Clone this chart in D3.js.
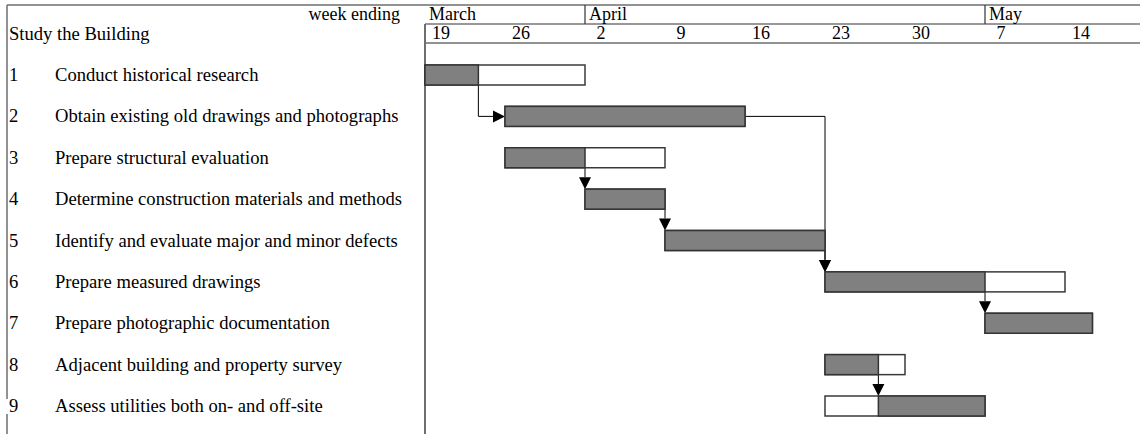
<!DOCTYPE html>
<html>
<head>
<meta charset="utf-8">
<script src="https://cdn.jsdelivr.net/npm/d3@7"></script>
<style>
  html, body { margin: 0; padding: 0; background: #fff; }
  svg { display: block; }
  text { font-family: "Liberation Serif", "Times New Roman", serif; font-size: 18px; fill: #000; }
  text.big { font-size: 18.6px; }
</style>
</head>
<body>
<svg id="chart" width="1140" height="434"></svg>
<script>
// ---- data ----
const sectionTitle = "Study the Building";
const headerLabel = "week ending";
const months = ["March", "April", "May"];
const monthStartDay = [0, 14, 49];          // days after March 19
const weekLabels = ["19", "26", "2", "9", "16", "23", "30", "7", "14"];
const weekDays = [0, 7, 14, 21, 28, 35, 42, 49, 56];

const taskIds = [1, 2, 3, 4, 5, 6, 7, 8, 9];
const taskNames = [
  "Conduct historical research",
  "Obtain existing old drawings and photographs",
  "Prepare structural evaluation",
  "Determine construction materials and methods",
  "Identify and evaluate major and minor defects",
  "Prepare measured drawings",
  "Prepare photographic documentation",
  "Adjacent building and property survey",
  "Assess utilities both on- and off-site"
];
// days after March 19
const taskStart = [0, 7, 7, 14, 21, 35, 49, 35, 35];
const taskEnd   = [14, 28, 21, 21, 35, 56, 58.4, 42, 49];
const doneStart = [0, 7, 7, 14, 21, 35, 49, 35, 39.67];
const doneEnd   = [4.67, 28, 14, 21, 35, 49, 58.4, 39.67, 49];

// dependencies: [from, to, routing]
const links = [
  [1, 2, "down-right"],
  [2, 6, "right-down"],
  [3, 4, "down"],
  [4, 5, "down"],
  [5, 6, "down"],
  [6, 7, "down"],
  [8, 9, "down"]
];

// ---- drawing ----
const svg = d3.select("#chart");
const x = d3.scaleLinear().domain([0, 63]).range([425, 1145]);
const y = d3.scaleLinear().domain([1, 9]).range([75, 406]);
const barH = 20;

const gridCol = "#6e6e6e";
const darkCol = "#333";

// frame
svg.append("line").attr("x1", 7).attr("x2", 1140).attr("y1", 5).attr("y2", 5)
  .attr("stroke", gridCol).attr("stroke-width", 1.5);
svg.append("line").attr("x1", 7).attr("x2", 7).attr("y1", 5).attr("y2", 399)
  .attr("stroke", gridCol).attr("stroke-width", 1.5);
svg.append("line").attr("x1", 7).attr("x2", 7).attr("y1", 414).attr("y2", 434)
  .attr("stroke", gridCol).attr("stroke-width", 1.5);

// header rows
svg.append("line").attr("x1", x(0)).attr("x2", 1140).attr("y1", 24).attr("y2", 24)
  .attr("stroke", darkCol).attr("stroke-width", 1.2);
svg.append("line").attr("x1", x(0)).attr("x2", 1140).attr("y1", 43).attr("y2", 43)
  .attr("stroke", gridCol).attr("stroke-width", 1.5);
svg.append("line").attr("x1", x(0)).attr("x2", x(0)).attr("y1", 24).attr("y2", 434)
  .attr("stroke", gridCol).attr("stroke-width", 2);

svg.selectAll(".msep").data(monthStartDay.slice(1)).enter().append("line")
  .attr("x1", d => x(d)).attr("x2", d => x(d)).attr("y1", 5).attr("y2", 24)
  .attr("stroke", darkCol).attr("stroke-width", 1.2);

svg.selectAll(".month").data(months).enter().append("text")
  .attr("x", (d, i) => x(monthStartDay[i]) + 4).attr("y", 20).text(d => d);

svg.selectAll(".week").data(weekLabels).enter().append("text")
  .attr("x", (d, i) => x(weekDays[i]) + 16).attr("y", 39)
  .attr("text-anchor", "middle").text(d => d);

svg.append("text").attr("x", 400).attr("y", 20).attr("text-anchor", "end").text(headerLabel);
svg.append("text").attr("class", "big").attr("x", 9).attr("y", 40).text(sectionTitle);

// task labels
const rows = svg.selectAll(".row").data(taskIds).enter().append("g");
rows.append("text").attr("class", "big").attr("x", 9).attr("y", d => y(d) + 6).text(d => d);
rows.append("text").attr("class", "big").attr("x", 55).attr("y", d => y(d) + 6).text((d, i) => taskNames[i]);

// connectors (behind bars)
const lineG = svg.append("g").attr("stroke", "#000").attr("stroke-width", 1).attr("fill", "none");
const arrowG = svg.append("g").attr("fill", "#000");
const ah = 12, aw = 6;
links.forEach(([f, t, kind]) => {
  const fi = f - 1, ti = t - 1;
  if (kind === "down") {
    const px = x(doneEnd[fi]);
    const y0 = y(f) + barH / 2, y1 = y(t) - barH / 2;
    lineG.append("path").attr("d", `M${px},${y0}V${y1 - ah}`);
    arrowG.append("path").attr("d", `M${px - aw},${y1 - ah}L${px + aw},${y1 - ah}L${px},${y1}Z`);
  } else if (kind === "down-right") {
    const px = x(doneEnd[fi]);
    const y0 = y(f) + barH / 2, yc = y(t), x1 = x(taskStart[ti]);
    lineG.append("path").attr("d", `M${px},${y0}V${yc}H${x1 - ah}`);
    arrowG.append("path").attr("d", `M${x1 - ah},${yc - aw}L${x1 - ah},${yc + aw}L${x1},${yc}Z`);
  } else if (kind === "right-down") {
    const px = x(taskEnd[fi]), yc = y(f);
    const x1 = x(taskStart[ti]), y1 = y(t) - barH / 2;
    lineG.append("path").attr("d", `M${px},${yc}H${x1}V${y1 - ah}`);
    arrowG.append("path").attr("d", `M${x1 - aw},${y1 - ah}L${x1 + aw},${y1 - ah}L${x1},${y1}Z`);
  }
});

// bars
const barG = svg.append("g");
taskIds.forEach((id, i) => {
  barG.append("rect")
    .attr("x", x(taskStart[i])).attr("y", y(id) - barH / 2)
    .attr("width", x(taskEnd[i]) - x(taskStart[i])).attr("height", barH)
    .attr("fill", "#fff").attr("stroke", "#3a3a3a").attr("stroke-width", 1.5);
  barG.append("rect")
    .attr("x", x(doneStart[i])).attr("y", y(id) - barH / 2)
    .attr("width", x(doneEnd[i]) - x(doneStart[i])).attr("height", barH)
    .attr("fill", "#808080").attr("stroke", "#333").attr("stroke-width", 1.5);
});
</script>
</body>
</html>
